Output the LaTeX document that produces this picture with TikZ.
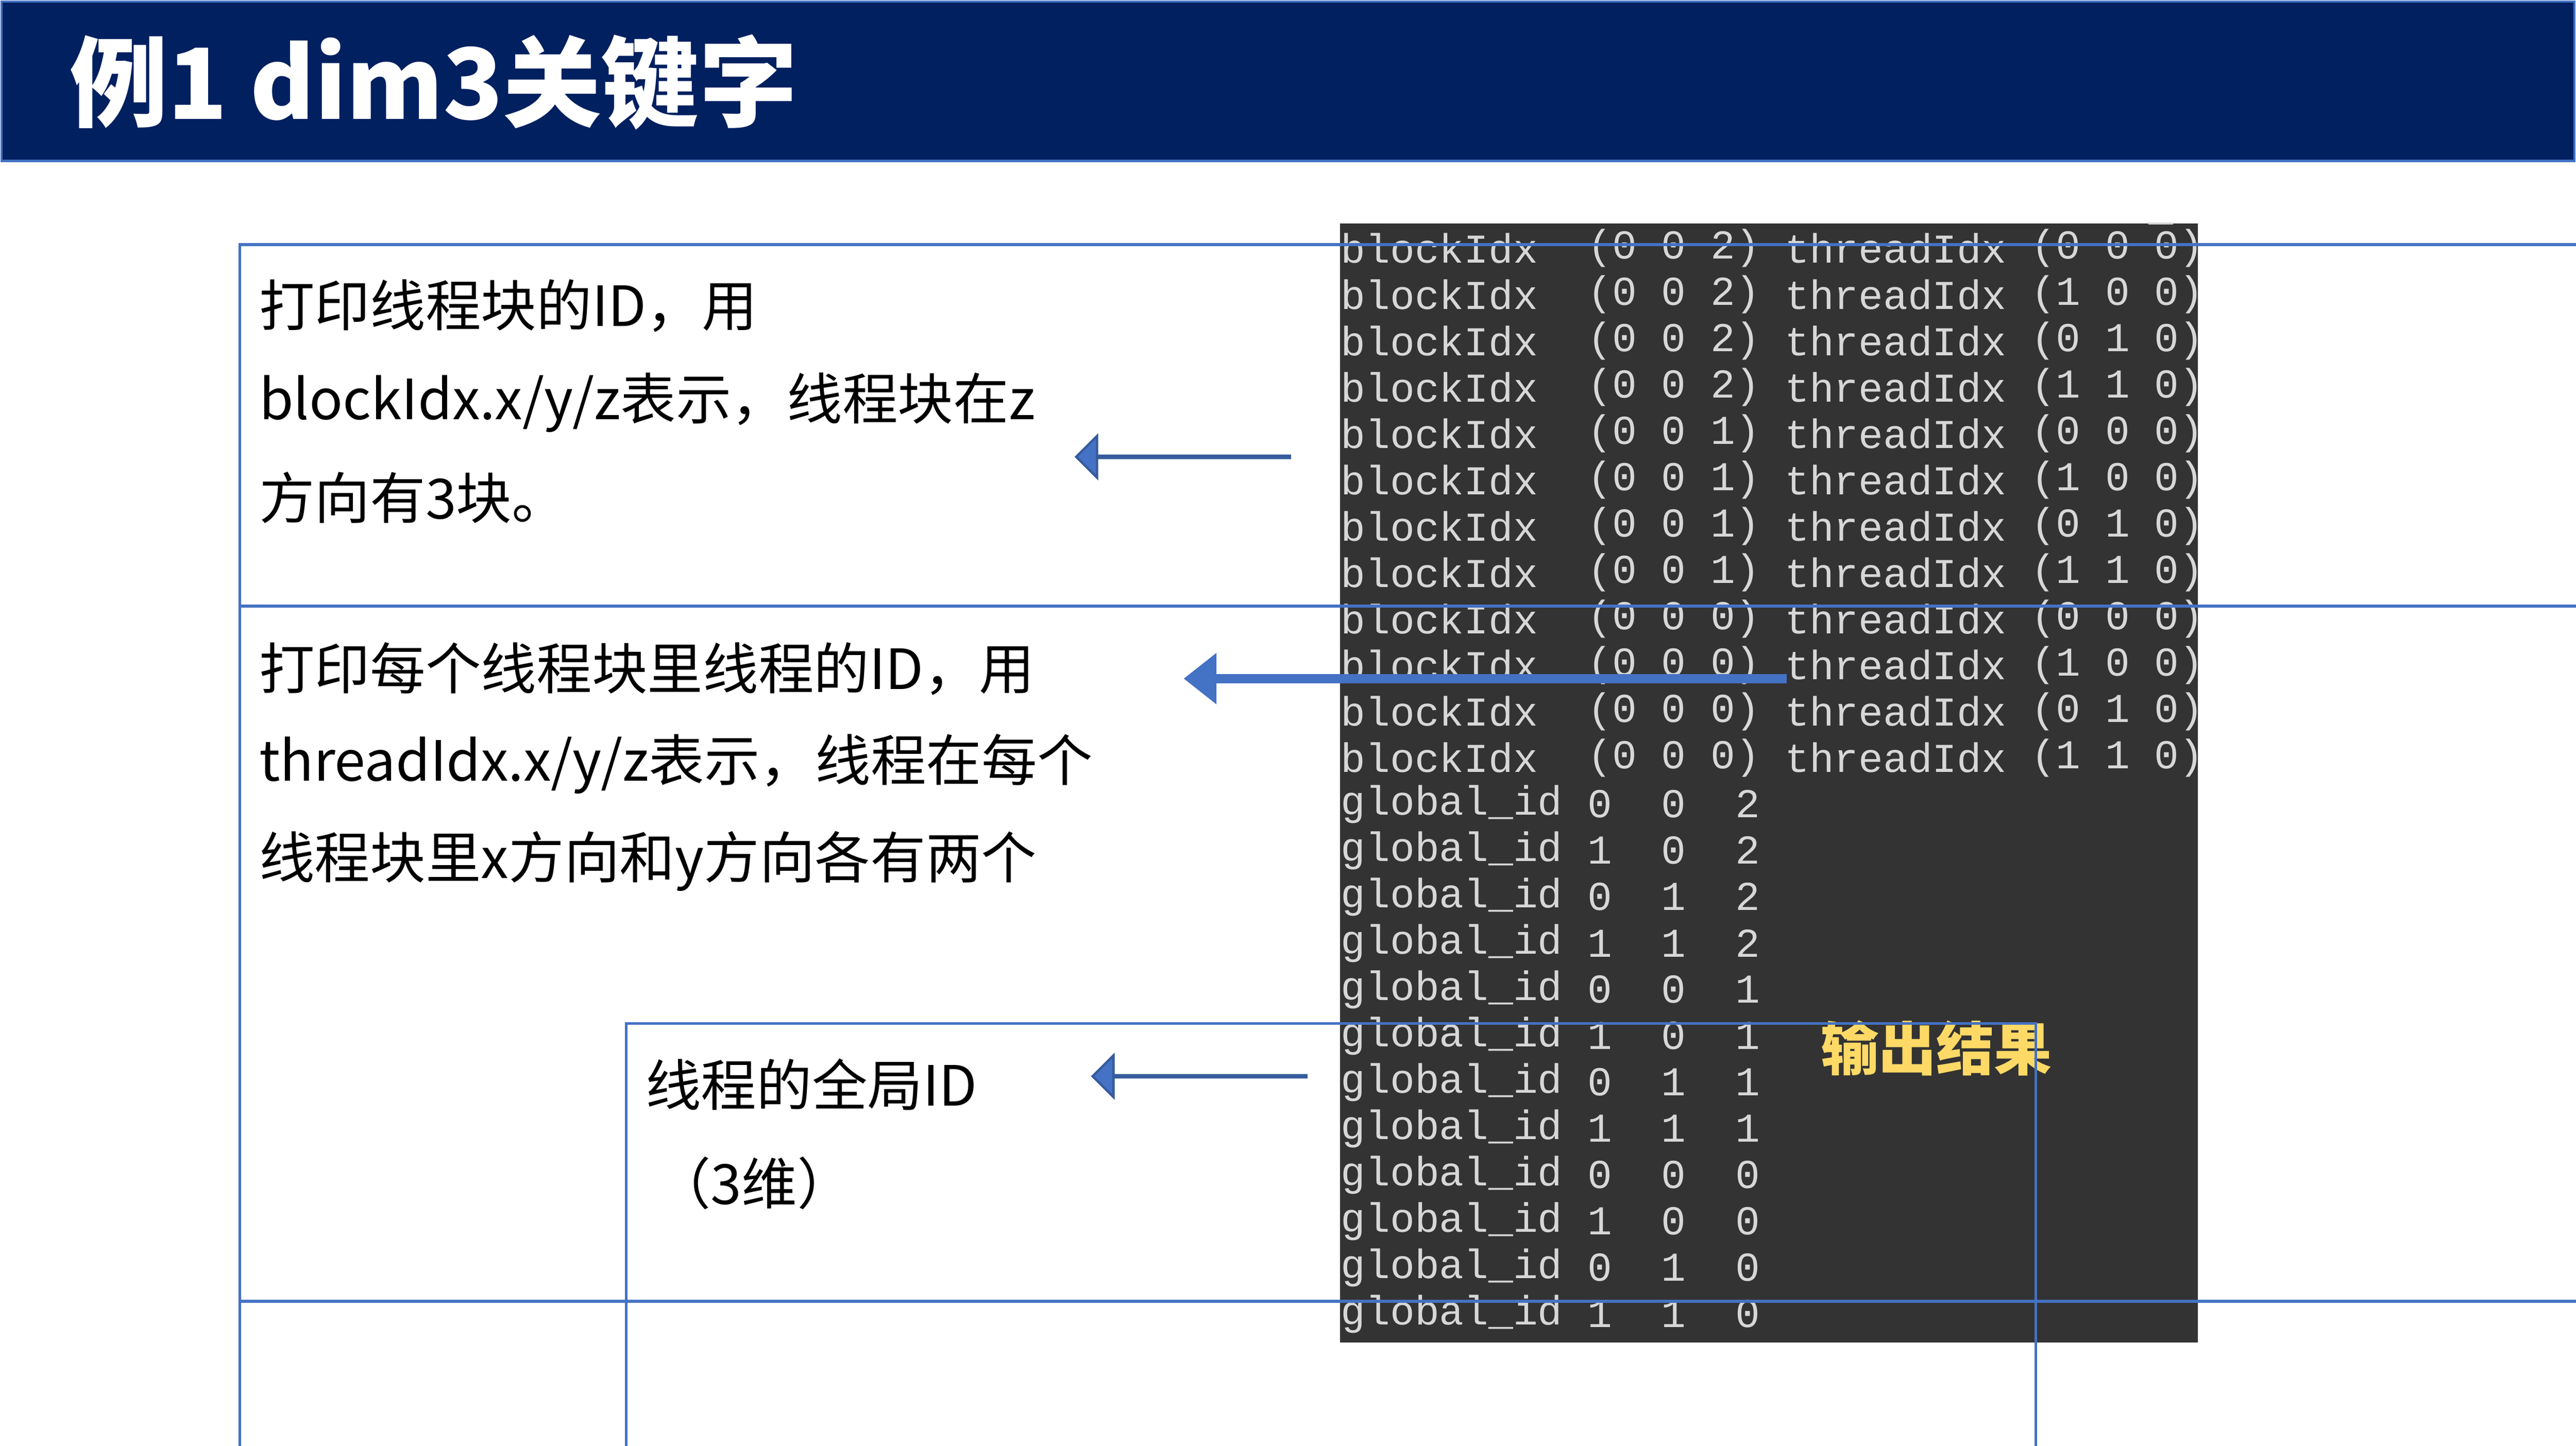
\documentclass[tikz,border=0pt]{standalone}
\usepackage{fontspec}
\setmainfont{Noto Sans CJK SC}
\setmonofont{Liberation Mono}
\usetikzlibrary{shapes.arrows,arrows.meta}
\definecolor{navy}{RGB}{0,32,96}
\definecolor{frame}{RGB}{68,114,196}
\definecolor{term}{RGB}{51,51,51}
\definecolor{termtext}{RGB}{215,215,215}
\definecolor{result}{RGB}{255,217,102}
\tikzset{
    % text boxes on the left
    note/.style={
        draw=frame,
        line width=0.5pt,
        minimum height=0,
    },
    notetext/.style={
        anchor=west,
        font=\fontsize{9.6pt}{11pt}\selectfont,
        inner sep=0,
    },
    % block arrows
    blockarrow/.style={
        single arrow,
        draw=frame!80!black,
        fill=frame,
        line width=0.4pt,
        shape border rotate=180,
        single arrow head extend=1.2mm,
        minimum height=13mm,
        minimum width=1.5mm,
        inner sep=0,
    },
    % terminal output
    tt/.style={
        anchor=west,
        inner sep=0,
        text=termtext,
        font=\ttfamily\fontsize{7.1pt}{8pt}\selectfont,
    },
}
\begin{document}
\begin{tikzpicture}[x=0.1mm,y=-0.1mm]
    \useasboundingbox (0,0) rectangle (1567,880);
    \fill[white] (0,0) rectangle (1567,880);

    % Title
    \draw[fill=navy, draw=frame] (1,1) rectangle (1566,98);
    \node[anchor=west, text=white, font=\bfseries\fontsize{17pt}{20pt}\selectfont] (title) at (30,50) {例1 dim3关键字};

    % Terminal
    \fill[term] (815,136) rectangle (1337,817);
    \foreach \b/\t [count=\i from 0] in {{0 0 2}/{0 0 0},{0 0 2}/{1 0 0},{0 0 2}/{0 1 0},{0 0 2}/{1 1 0},
            {0 0 1}/{0 0 0},{0 0 1}/{1 0 0},{0 0 1}/{0 1 0},{0 0 1}/{1 1 0},
            {0 0 0}/{0 0 0},{0 0 0}/{1 0 0},{0 0 0}/{0 1 0},{0 0 0}/{1 1 0}} {
        \node[tt] (b\i) at (815,151+28.2*\i) {blockIdx};
        \node[tt] at (965,151+28.2*\i) {(\b)};
        \node[tt] at (1085,151+28.2*\i) {threadIdx};
        \node[tt] at (1235,151+28.2*\i) {(\t)};
    }
    \foreach \x/\y/\z [count=\i from 12] in {0/0/2,1/0/2,0/1/2,1/1/2,0/0/1,1/0/1,0/1/1,1/1/1,0/0/0,1/0/0,0/1/0,1/1/0} {
        \node[tt] (g\i) at (815,151+28.2*\i) {global\_id};
        \node[tt] at (965,151+28.2*\i) {\x~~\y~~\z};
    }
    \node[text=result, font=\bfseries\fontsize{10pt}{12pt}\selectfont] (res) at (1178,638) {输出结果};
    \draw[termtext, line width=0.4pt] (1307,136) -- (1322,136);

    % Notes
    \node[note, minimum width=502, minimum height=183, anchor=north west] (n1) at (145,148) {};
    \node[notetext] at (157,186) {打印线程块的ID，用};
    \node[notetext] at (157,245) {blockIdx.x/y/z表示，线程块在z};
    \node[notetext] at (157,303) {方向有3块。};

    \node[note, minimum width=534, minimum height=183, anchor=north west] (n2) at (145,368) {};
    \node[notetext] at (157,407) {打印每个线程块里线程的ID，用};
    \node[notetext] at (157,465) {threadIdx.x/y/z表示，线程在每个};
    \node[notetext] at (157,524) {线程块里x方向和y方向各有两个};

    \node[note, minimum width=244, minimum height=123, anchor=north west] (n3) at (380,622) {};
    \node[notetext] at (392,660) {线程的全局ID};
    \node[notetext] at (398,720) {（3维）};

    % Arrows
    \node[blockarrow] (a1) at (720,278) {};
    \node[blockarrow] (a3) at (730,655) {};
    \coordinate (s2) at (1087,413);
    \coordinate (e2) at (720,413);
    \draw[frame, line width=1.6pt, -{Triangle[length=2mm,width=3mm]}] (s2) -- (e2);
\end{tikzpicture}
\end{document}
